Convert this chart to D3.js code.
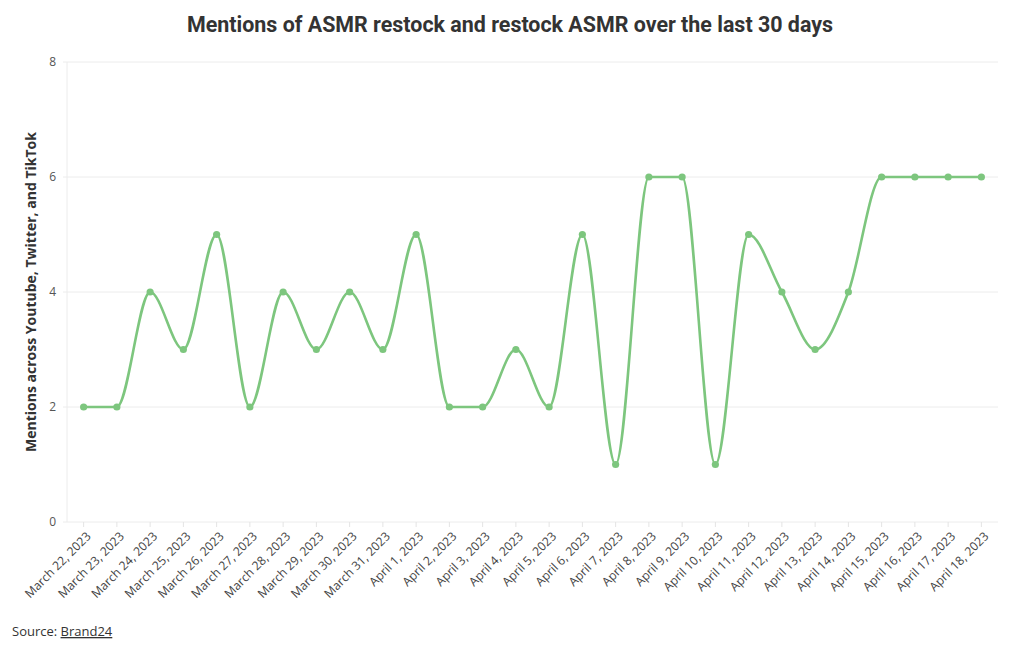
<!DOCTYPE html>
<html>
<head>
<meta charset="utf-8">
<script src="https://cdn.jsdelivr.net/npm/d3@7"></script>
<style>
  body { margin: 0; background: #fff; }
  svg { display: block; }
</style>
</head>
<body>
<div id="chart"></div>
<script>
// data
const dates = ["March 22, 2023","March 23, 2023","March 24, 2023","March 25, 2023","March 26, 2023",
  "March 27, 2023","March 28, 2023","March 29, 2023","March 30, 2023","March 31, 2023",
  "April 1, 2023","April 2, 2023","April 3, 2023","April 4, 2023","April 5, 2023",
  "April 6, 2023","April 7, 2023","April 8, 2023","April 9, 2023","April 10, 2023",
  "April 11, 2023","April 12, 2023","April 13, 2023","April 14, 2023","April 15, 2023",
  "April 16, 2023","April 17, 2023","April 18, 2023"]
const mentions = [2,2,4,3,5,2,4,3,4,3,5,2,2,3,2,5,1,6,6,1,5,4,3,4,6,6,6,6]
const yTicks = [0,2,4,6,8]

const W = 1020, H = 650
const margin = {top: 62, right: 22, bottom: 128, left: 67}
const LINE_COLOR = "#7dc67e"

const svg = d3.select("#chart").append("svg").attr("width", W).attr("height", H)

// title is a condensed face in the original, squeeze it to the same width
svg.append("text")
  .attr("x", 187).attr("y", 32)
  .attr("textLength", 646).attr("lengthAdjust","spacingAndGlyphs")
  .style("font-family","'Roboto',sans-serif")
  .style("font-weight","bold").style("font-size","22px").style("fill","#333")
  .text("Mentions of ASMR restock and restock ASMR over the last 30 days")

const x = d3.scalePoint().domain(dates).range([margin.left, W - margin.right]).padding(0.5)
const y = d3.scaleLinear().domain([0,8]).range([H - margin.bottom, margin.top])

// grid
svg.append("g").selectAll("line").data(yTicks).join("line")
  .attr("x1", margin.left - 4).attr("x2", W - margin.right)
  .attr("y1", d => y(d)).attr("y2", d => y(d))
  .attr("stroke","#ececec").attr("stroke-width",1)
svg.append("line")
  .attr("x1", margin.left).attr("x2", margin.left)
  .attr("y1", y(8)).attr("y2", y(0))
  .attr("stroke","#ececec")

svg.append("g").selectAll("text").data(yTicks).join("text")
  .attr("x", margin.left - 11).attr("y", d => y(d)).attr("dy","0.35em")
  .attr("text-anchor","end")
  .style("font-family","'Open Sans',sans-serif").style("font-size","12px").style("fill","#555")
  .text(d => d)

// x ticks + labels
const xg = svg.append("g").attr("transform", `translate(0,${y(0)})`)
xg.selectAll("line").data(dates).join("line")
  .attr("x1", d => x(d)).attr("x2", d => x(d)).attr("y1",0).attr("y2",5)
  .attr("stroke","#e4e4e4")
xg.selectAll("text").data(dates).join("text")
  .attr("transform", d => `translate(${x(d)+5},${12}) rotate(-45)`)
  .attr("text-anchor","end").attr("dy","0.35em")
  .style("font-family","'Open Sans',sans-serif").style("font-size","12.2px").style("fill","#444")
  .text(d => d)

svg.append("text")
  .attr("transform", `translate(36,${(y(0)+y(8))/2}) rotate(-90)`)
  .attr("text-anchor","middle")
  .style("font-family","'Open Sans',sans-serif").style("font-weight","bold")
  .style("font-size","14px").style("fill","#333")
  .text("Mentions across Youtube, Twitter, and TikTok")

// line
const line = d3.line().x((d,i) => x(dates[i])).y(d => y(d)).curve(d3.curveMonotoneX)
svg.append("path").datum(mentions)
  .attr("d", line).attr("fill","none")
  .attr("stroke", LINE_COLOR).attr("stroke-width", 2.6)

svg.append("g").selectAll("circle").data(mentions).join("circle")
  .attr("cx", (d,i) => x(dates[i])).attr("cy", d => y(d)).attr("r", 3.6)
  .attr("fill", LINE_COLOR)

// footer
const src = svg.append("text").attr("x", 12).attr("y", 636)
  .style("font-family","'Open Sans',sans-serif").style("font-size","13px").style("fill","#333")
src.append("tspan").text("Source: ")
src.append("tspan").attr("text-decoration","underline").text("Brand24")
</script>
</body>
</html>
